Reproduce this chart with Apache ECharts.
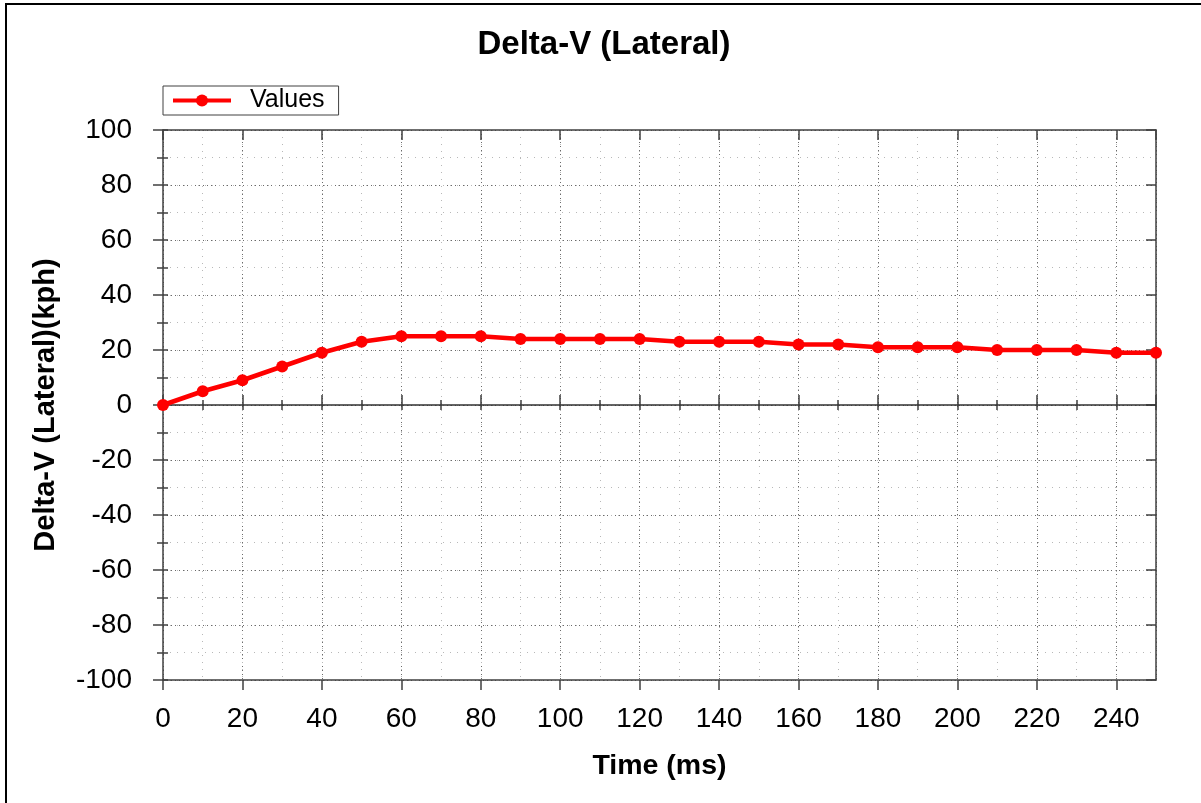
<!DOCTYPE html>
<html>
<head>
<meta charset="utf-8">
<script src="https://cdn.jsdelivr.net/npm/echarts@6/dist/echarts.min.js"></script>
<style>
html,body{margin:0;padding:0;background:#fff;}
#chart{width:1201px;height:803px;}
</style>
</head>
<body>
<div id="chart"></div>
<script>
// ---- data ----
const chartTitle = 'Delta-V (Lateral)';
const xAxisName = 'Time (ms)';
const yAxisName = 'Delta-V (Lateral)(kph)';
const seriesName = 'Values';
const times  = [0,10,20,30,40,50,60,70,80,90,100,110,120,130,140,150,160,170,180,190,200,210,220,230,240,250];
const values = [0,5,9,14,19,23,25,25,25,24,24,24,24,23,23,23,22,22,21,21,21,20,20,20,19,19];
const xMin = 0, xMax = 250, xMajor = 20, xMinor = 10;
const yMin = -100, yMax = 100, yMajor = 20, yMinor = 10;

const FONT = "'Liberation Sans', Arial, sans-serif";
const AXIS_COLOR = '#404040';
const MAJOR_GRID = {color:'#6a6a6a', width:1, type:[1,3]};
const MINOR_GRID = {color:'#b8b8b8', width:1, type:[1,6]};

function xA(o){
  return Object.assign({
    type:'value', min:xMin, max:xMax, interval:xMajor, position:'bottom',
    axisLine:{show:false}, axisTick:{show:false}, axisLabel:{show:false},
    splitLine:{show:false}, minorTick:{show:false}
  }, o);
}
function yA(o){
  return Object.assign({
    type:'value', min:yMin, max:yMax, interval:yMajor, position:'left',
    axisLine:{show:false}, axisTick:{show:false}, axisLabel:{show:false},
    splitLine:{show:false}, minorTick:{show:false}
  }, o);
}

const chart = echarts.init(document.getElementById('chart'));
chart.setOption({
  backgroundColor:'#fff',
  animation:false,
  textStyle:{fontFamily:FONT},
  title:{
    text:chartTitle, left:604, textAlign:'center', top:28, padding:0,
    textStyle:{fontFamily:FONT, fontSize:33, fontWeight:'bold', color:'#000'}
  },
  legend:{
    left:163, top:86, orient:'horizontal',
    padding:[1,14,1,8],
    borderColor:'#404040', borderWidth:1, borderRadius:0,
    itemWidth:58, itemHeight:15, itemGap:0,
    lineStyle:{width:4, color:'#ff0000'},
    textStyle:{fontFamily:FONT, fontSize:25, color:'#000', padding:[0,0,0,14], lineHeight:27},
    data:[seriesName]
  },
  graphic:[{
    type:'rect', silent:true, z:100,
    shape:{x:6, y:4, width:1300, height:900},
    style:{fill:'none', stroke:'#000', lineWidth:2}
  }],
  grid:{left:163, right:45, top:130, bottom:123, containLabel:false},
  xAxis:[
    xA({ // main bottom: labels, outside major ticks, major grid
      name:xAxisName, nameLocation:'middle', nameGap:72,
      nameTextStyle:{fontFamily:FONT, fontSize:28.5, fontWeight:'bold', color:'#000'},
      axisLine:{show:true, onZero:false, lineStyle:{color:AXIS_COLOR, width:1.5}},
      axisTick:{show:true, inside:false, length:10, lineStyle:{color:AXIS_COLOR, width:1.5}},
      axisLabel:{show:true, margin:25, fontFamily:FONT, fontSize:28, color:'#000', showMaxLabel:false},
      splitLine:{show:true, lineStyle:MAJOR_GRID}
    }),
    xA({ // bottom inside major ticks
      axisTick:{show:true, inside:true, length:10, lineStyle:{color:AXIS_COLOR, width:1.5}}
    }),
    xA({ // bottom minor ticks outside + minor grid
      interval:xMinor,
      axisTick:{show:true, inside:false, length:5, lineStyle:{color:AXIS_COLOR, width:1.5}},
      splitLine:{show:true, lineStyle:MINOR_GRID}
    }),
    xA({ // bottom minor ticks inside
      interval:xMinor,
      axisTick:{show:true, inside:true, length:5, lineStyle:{color:AXIS_COLOR, width:1.5}}
    }),
    xA({ // top axis line + major ticks
      position:'top',
      axisLine:{show:true, onZero:false, lineStyle:{color:AXIS_COLOR, width:1.5}},
      axisTick:{show:true, inside:true, length:10, lineStyle:{color:AXIS_COLOR, width:1.5}}
    }),
    xA({ // top minor ticks
      position:'top', interval:xMinor,
      axisTick:{show:true, inside:true, length:5, lineStyle:{color:AXIS_COLOR, width:1.5}}
    })
  ],
  yAxis:[
    yA({ // main left: labels, outside major ticks, major grid
      name:yAxisName, nameLocation:'middle', nameGap:103, nameRotate:90,
      nameTextStyle:{fontFamily:FONT, fontSize:29, fontWeight:'bold', color:'#000'},
      axisLine:{show:true, onZero:false, lineStyle:{color:AXIS_COLOR, width:1.5}},
      axisTick:{show:true, inside:false, length:10, lineStyle:{color:AXIS_COLOR, width:1.5}},
      axisLabel:{show:true, margin:31, fontFamily:FONT, fontSize:28, color:'#000'},
      splitLine:{show:true, lineStyle:MAJOR_GRID}
    }),
    yA({ // left minor outside + minor grid
      interval:yMinor,
      axisTick:{show:true, inside:false, length:5, lineStyle:{color:AXIS_COLOR, width:1.5}},
      splitLine:{show:true, lineStyle:MINOR_GRID}
    }),
    yA({ // left inside ticks
      interval:yMinor,
      axisTick:{show:true, inside:true, length:5, lineStyle:{color:AXIS_COLOR, width:1.5}}
    }),
    yA({ // right axis line + major ticks
      position:'right',
      axisLine:{show:true, onZero:false, lineStyle:{color:AXIS_COLOR, width:1.5}},
      axisTick:{show:true, inside:true, length:10, lineStyle:{color:AXIS_COLOR, width:1.5}}
    }),
    yA({ // right minor ticks
      position:'right', interval:yMinor,
      axisTick:{show:true, inside:true, length:6, lineStyle:{color:AXIS_COLOR, width:1.5}}
    })
  ],
  series:[{
    name:seriesName, type:'line',
    xAxisIndex:0, yAxisIndex:0,
    data:times.map((t,i)=>[t, values[i]]),
    symbol:'circle', symbolSize:12, showSymbol:true,
    lineStyle:{color:'#ff0000', width:4.5},
    itemStyle:{color:'#ff0000'},
    z:5,
    markLine:{
      silent:true, symbol:'none', label:{show:false},
      lineStyle:{color:'#303030', width:1.5, type:'solid'},
      data:[{yAxis:0}]
    }
  }]
});
</script>
</body>
</html>
